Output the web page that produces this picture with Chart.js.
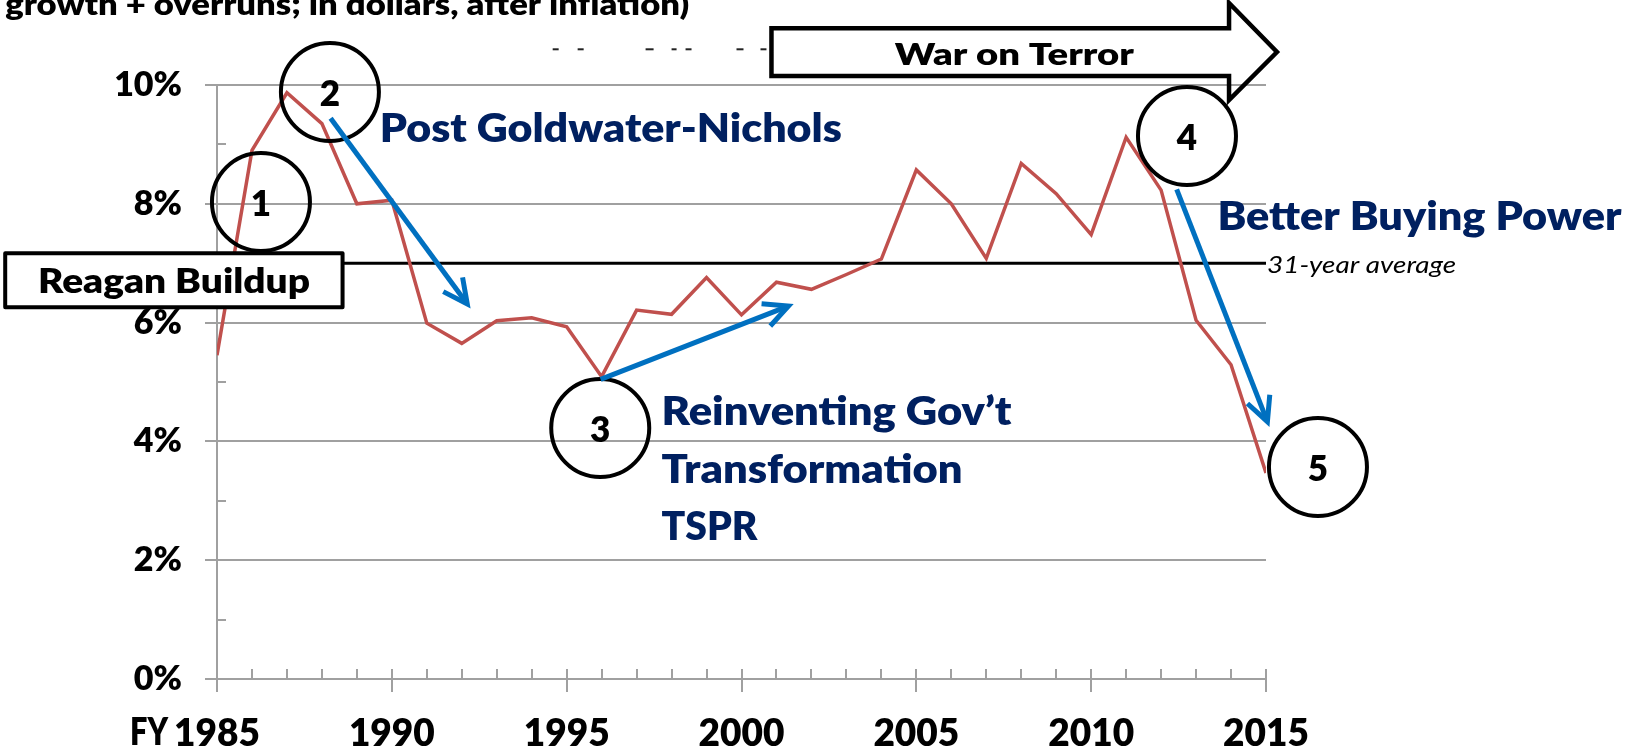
<!DOCTYPE html>
<html>
<head>
<meta charset="utf-8">
<script src="https://cdn.jsdelivr.net/npm/chart.js@4.4.0/dist/chart.umd.min.js"></script>
<style>
  html, body { margin: 0; padding: 0; background: #ffffff; }
  #wrap { width: 1633px; height: 751px; position: relative; overflow: hidden; }
</style>
</head>
<body>
<div id="wrap"><canvas id="c" width="1633" height="751"></canvas></div>
<script>
// ---------------- DATA ----------------
const years = [1985,1986,1987,1988,1989,1990,1991,1992,1993,1994,1995,1996,1997,1998,1999,2000,
               2001,2002,2003,2004,2005,2006,2007,2008,2009,2010,2011,2012,2013,2014,2015];
const growthPct = [5.45,8.90,9.87,9.35,8.00,8.06,5.99,5.65,6.03,6.08,5.93,5.09,6.21,6.14,6.76,6.13,
                   6.68,6.56,6.81,7.07,8.57,8.00,7.08,8.68,8.17,7.48,9.12,8.23,6.04,5.29,3.47];
const averagePct = 7.0;
const averageLabel = '31-year average';
const xTickLabels = {1985:'1985',1990:'1990',1995:'1995',2000:'2000',2005:'2005',2010:'2010',2015:'2015'};
const yTickValues = [0,2,4,6,8,10];
const titleText = 'growth + overruns; in dollars, after inflation)';

// annotation positions are in data units (year, percent)
const eraCircles = [
  {label:'1', year:1986.257, pct:8.030},
  {label:'2', year:1988.229, pct:9.882},
  {label:'3', year:1995.960, pct:4.226},
  {label:'4', year:2012.740, pct:9.141},
  {label:'5', year:2016.486, pct:3.569}
];
const trendArrows = [
  {from:[1988.249, 9.439], to:[1992.157, 6.313]},
  {from:[1995.971, 5.045], to:[2001.343, 6.279]},
  {from:[2012.446, 8.244], to:[2015.040, 4.332]}
];
const eraTexts = [
  {text:'Post Goldwater-Nichols', year:1989.657, pct:9.046, w:462},
  {text:'Better Buying Power',    year:2013.611, pct:7.559, w:404},
  {text:'Reinventing Gov\u2019t', year:1997.714, pct:4.276, w:350},
  {text:'Transformation',         year:1997.714, pct:3.295, w:301},
  {text:'TSPR',                   year:1997.714, pct:2.340, w:96}
];
const reaganBox = {text:'Reagan Buildup', x0:1978.943, x1:1988.591, y0:7.167, y1:6.258, tx:1983.771, ty:6.493, w:272};
const warArrow = {text:'War on Terror', left:2000.857, base:2013.943, tip:2015.314,
                  bodyTop:10.955, bodyBottom:10.152, headTop:11.380, mid:10.556, headBottom:9.747,
                  tx:2007.8, ty:10.337, w:239};
const titlePos = {year:1978.943, pct:11.178, w:684};
const fyPos = {year:1982.514, pct:-1.111, w:38};
const cutRemnants = [[1994.600,1994.771],[1995.314,1995.486],[1997.257,1997.486],[1998.000,1998.143],
                     [1998.400,1998.571],[1999.857,2000.057],[2000.543,2000.714]];
const cutRemnantPct = 10.601;

// ---------------- STYLE ----------------
const GRID = '#a0a0a0';
const RED = '#c0504d';
const BLUE = '#0070c0';
const NAVY = '#002060';
const FONT = 'Lato, "Open Sans", "DejaVu Sans", sans-serif';
const W = '800';

function fitText(ctx, text, x, y, font, color, targetW, align) {
  ctx.save();
  ctx.font = font; ctx.fillStyle = color; ctx.textBaseline = 'alphabetic'; ctx.textAlign = 'left';
  const w = ctx.measureText(text).width;
  const sx = targetW ? targetW / w : 1;
  let ox = x;
  if (align === 'center') ox = x - w * sx / 2;
  else if (align === 'right') ox = x - w * sx;
  ctx.translate(ox, y); ctx.scale(sx, 1);
  ctx.fillText(text, 0, 0);
  ctx.restore();
}

const annotationPlugin = {
  id: 'annotations',
  beforeDatasetsDraw(chart) {
    const ctx = chart.ctx, xs = chart.scales.x, ys = chart.scales.y;
    const left = chart.chartArea.left, bottom = chart.chartArea.bottom;
    ctx.save();
    ctx.strokeStyle = GRID; ctx.lineWidth = 2;
    for (let v = ys.min; v <= ys.max; v += 1) {
      const y = Math.round(ys.getPixelForValue(v));
      ctx.beginPath(); ctx.moveTo(left, y); ctx.lineTo(left + 9, y); ctx.stroke();
    }
    for (let yr = xs.min; yr <= xs.max; yr += 1) {
      const x = Math.round(xs.getPixelForValue(yr));
      ctx.beginPath(); ctx.moveTo(x, bottom); ctx.lineTo(x, bottom - 10); ctx.stroke();
    }
    ctx.restore();
  },
  afterDatasetsDraw(chart) {
    const ctx = chart.ctx, xs = chart.scales.x, ys = chart.scales.y;
    const X = v => xs.getPixelForValue(v), Y = v => ys.getPixelForValue(v);
    ctx.save();

    fitText(ctx, titleText, X(titlePos.year), Y(titlePos.pct), W + ' 30px ' + FONT, '#000', titlePos.w, 'left');
    ctx.strokeStyle = '#222'; ctx.lineWidth = 2;
    cutRemnants.forEach(r => {
      ctx.beginPath(); ctx.moveTo(X(r[0]), Y(cutRemnantPct)); ctx.lineTo(X(r[1]), Y(cutRemnantPct)); ctx.stroke();
    });

    fitText(ctx, 'FY', X(fyPos.year), Y(fyPos.pct), W + ' 37px ' + FONT, '#000', fyPos.w, 'left');

    const lastYear = years[years.length - 1];
    fitText(ctx, averageLabel, X(lastYear) + 1, Y(averagePct) + 10, 'italic 24px ' + FONT, '#000', 189, 'left');

    const bx0 = X(reaganBox.x0), bx1 = X(reaganBox.x1), by0 = Y(reaganBox.y0), by1 = Y(reaganBox.y1);
    ctx.fillStyle = '#fff'; ctx.strokeStyle = '#000'; ctx.lineWidth = 4; ctx.lineJoin = 'round';
    ctx.beginPath(); ctx.rect(bx0, by0, bx1 - bx0, by1 - by0); ctx.fill(); ctx.stroke();
    fitText(ctx, reaganBox.text, X(reaganBox.tx), Y(reaganBox.ty), W + ' 33px ' + FONT, '#000', reaganBox.w, 'center');

    ctx.strokeStyle = '#000'; ctx.lineWidth = 4.5; ctx.lineJoin = 'miter';
    ctx.beginPath();
    ctx.moveTo(X(warArrow.left), Y(warArrow.bodyTop));
    ctx.lineTo(X(warArrow.base), Y(warArrow.bodyTop));
    ctx.lineTo(X(warArrow.base), Y(warArrow.headTop));
    ctx.lineTo(X(warArrow.tip), Y(warArrow.mid));
    ctx.lineTo(X(warArrow.base), Y(warArrow.headBottom));
    ctx.lineTo(X(warArrow.base), Y(warArrow.bodyBottom));
    ctx.lineTo(X(warArrow.left), Y(warArrow.bodyBottom));
    ctx.closePath();
    ctx.stroke();
    fitText(ctx, warArrow.text, X(warArrow.tx), Y(warArrow.ty), W + ' 31px ' + FONT, '#000', warArrow.w, 'center');

    eraCircles.forEach(c => {
      const cx = X(c.year), cy = Y(c.pct);
      ctx.strokeStyle = '#000'; ctx.lineWidth = 4;
      ctx.beginPath(); ctx.arc(cx, cy, 49, 0, Math.PI * 2); ctx.stroke();
      ctx.font = W + ' 35px ' + FONT; ctx.fillStyle = '#000'; ctx.textAlign = 'center'; ctx.textBaseline = 'alphabetic';
      ctx.fillText(c.label, cx, cy + 14);
    });

    ctx.strokeStyle = BLUE; ctx.lineWidth = 5; ctx.lineCap = 'butt'; ctx.lineJoin = 'miter';
    trendArrows.forEach(a => {
      const x0 = X(a.from[0]), y0 = Y(a.from[1]), x1 = X(a.to[0]), y1 = Y(a.to[1]);
      const ang = Math.atan2(y1 - y0, x1 - x0);
      const L = 27, spread = 0.46;
      ctx.beginPath(); ctx.moveTo(x0, y0); ctx.lineTo(x1 - 3 * Math.cos(ang), y1 - 3 * Math.sin(ang)); ctx.stroke();
      ctx.beginPath();
      ctx.moveTo(x1 - L * Math.cos(ang - spread), y1 - L * Math.sin(ang - spread));
      ctx.lineTo(x1, y1);
      ctx.lineTo(x1 - L * Math.cos(ang + spread), y1 - L * Math.sin(ang + spread));
      ctx.stroke();
    });

    eraTexts.forEach(t => {
      fitText(ctx, t.text, X(t.year), Y(t.pct), W + ' 40px ' + FONT, NAVY, t.w, 'left');
    });

    ctx.restore();
  }
};

function build() {
  const ctx = document.getElementById('c').getContext('2d');
  new Chart(ctx, {
    type: 'line',
    data: {
      datasets: [
        {
          label: 'growth',
          data: years.map((y, i) => ({x: y, y: growthPct[i]})),
          borderColor: RED, borderWidth: 3.5, pointRadius: 0, tension: 0, fill: false
        },
        {
          label: averageLabel,
          data: [{x: years[0], y: averagePct}, {x: years[years.length - 1], y: averagePct}],
          borderColor: '#000', borderWidth: 3, pointRadius: 0, tension: 0, fill: false
        }
      ]
    },
    options: {
      responsive: false,
      animation: false,
      devicePixelRatio: 1,
      layout: { padding: { left: 0, top: 85, right: 367, bottom: 0 } },
      plugins: { legend: { display: false }, tooltip: { enabled: false }, title: { display: false } },
      scales: {
        x: {
          type: 'linear', min: years[0], max: years[years.length - 1],
          afterFit: s => { s.height = 72; },
          border: { display: true, color: GRID, width: 2 },
          grid: {
            drawOnChartArea: false, drawTicks: true, tickLength: 13, lineWidth: 2,
            tickColor: c => (c.tick && xTickLabels[c.tick.value] !== undefined) ? GRID : 'rgba(0,0,0,0)',
            color: 'rgba(0,0,0,0)'
          },
          ticks: {
            stepSize: 1, autoSkip: false, maxRotation: 0, minRotation: 0, padding: 20,
            color: '#000', font: { family: FONT, size: 37, weight: W },
            callback: v => xTickLabels[v] !== undefined ? xTickLabels[v] : ''
          }
        },
        y: {
          type: 'linear', min: yTickValues[0], max: yTickValues[yTickValues.length - 1],
          afterFit: s => { s.width = 217; },
          border: { display: true, color: GRID, width: 2 },
          grid: { color: GRID, lineWidth: 2, drawTicks: true, tickLength: 12, tickColor: GRID },
          ticks: {
            stepSize: 2, padding: 23, color: '#000',
            font: { family: FONT, size: 34, weight: W },
            callback: v => v + '%'
          }
        }
      }
    },
    plugins: [annotationPlugin]
  });
}

const fontLoads = ['800 34px Lato', 'bold 34px Lato', 'italic 24px Lato', '800 40px Lato'].map(f => document.fonts.load(f).catch(() => null));
Promise.race([Promise.all(fontLoads), new Promise(r => setTimeout(r, 1500))]).then(build);
</script>
</body>
</html>
